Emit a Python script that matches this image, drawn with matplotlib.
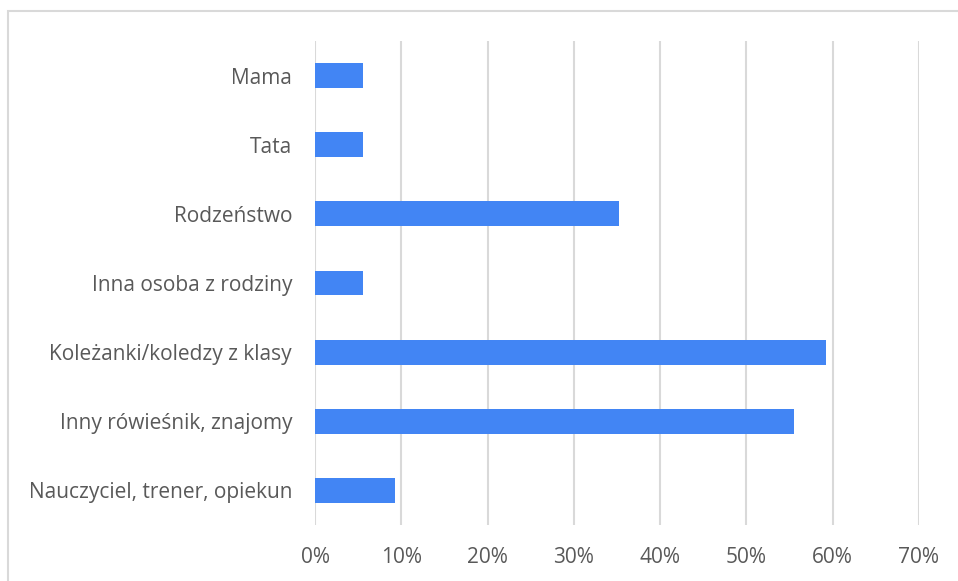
import matplotlib
matplotlib.use("Agg")
import matplotlib.pyplot as plt
from matplotlib.patches import Rectangle
from matplotlib.ticker import PercentFormatter

# categories from top to bottom
categories = ["Mama", "Tata", "Rodzeństwo", "Inna osoba z rodziny",
              "Koleżanki/koledzy z klasy", "Inny rówieśnik, znajomy",
              "Nauczyciel, trener, opiekun"]
# share of answers (%)
values = [5.56, 5.56, 35.19, 5.56, 59.26, 55.56, 9.26]
xticks = [0, 10, 20, 30, 40, 50, 60, 70]

plt.rcParams['font.family'] = ['Open Sans', 'DejaVu Sans']

fig = plt.figure(figsize=(9.58, 5.81), dpi=100)
ax = fig.add_axes([315 / 958, 1 - 525 / 581, 604 / 958, 484 / 581])

# outer chart frame (only left and top edges visible in the crop)
fig.patches.append(Rectangle((8 / 958, -0.1), 1.2, 1 - 11 / 581 + 0.1,
                             transform=fig.transFigure, fill=False,
                             edgecolor='#d9d9d9', linewidth=1.5))

ypos = list(range(len(categories)))
ax.barh(ypos, values, height=0.36, color='#4285f4', zorder=3)

ax.set_xlim(0, 70)
ax.set_ylim(len(categories) - 0.5, -0.5)
ax.set_xticks(xticks)
ax.xaxis.set_major_formatter(PercentFormatter(decimals=0))
ax.set_yticks(ypos)
ax.set_yticklabels(categories)

ax.grid(axis='x', color='#d9d9d9', linewidth=1.5, zorder=0)
for s in ax.spines.values():
    s.set_visible(False)
ax.tick_params(axis='both', length=0, labelsize=15, labelcolor='#595959')
ax.tick_params(axis='x', pad=16)
ax.tick_params(axis='y', pad=16.5)

fig.savefig("out.png", dpi=100)
